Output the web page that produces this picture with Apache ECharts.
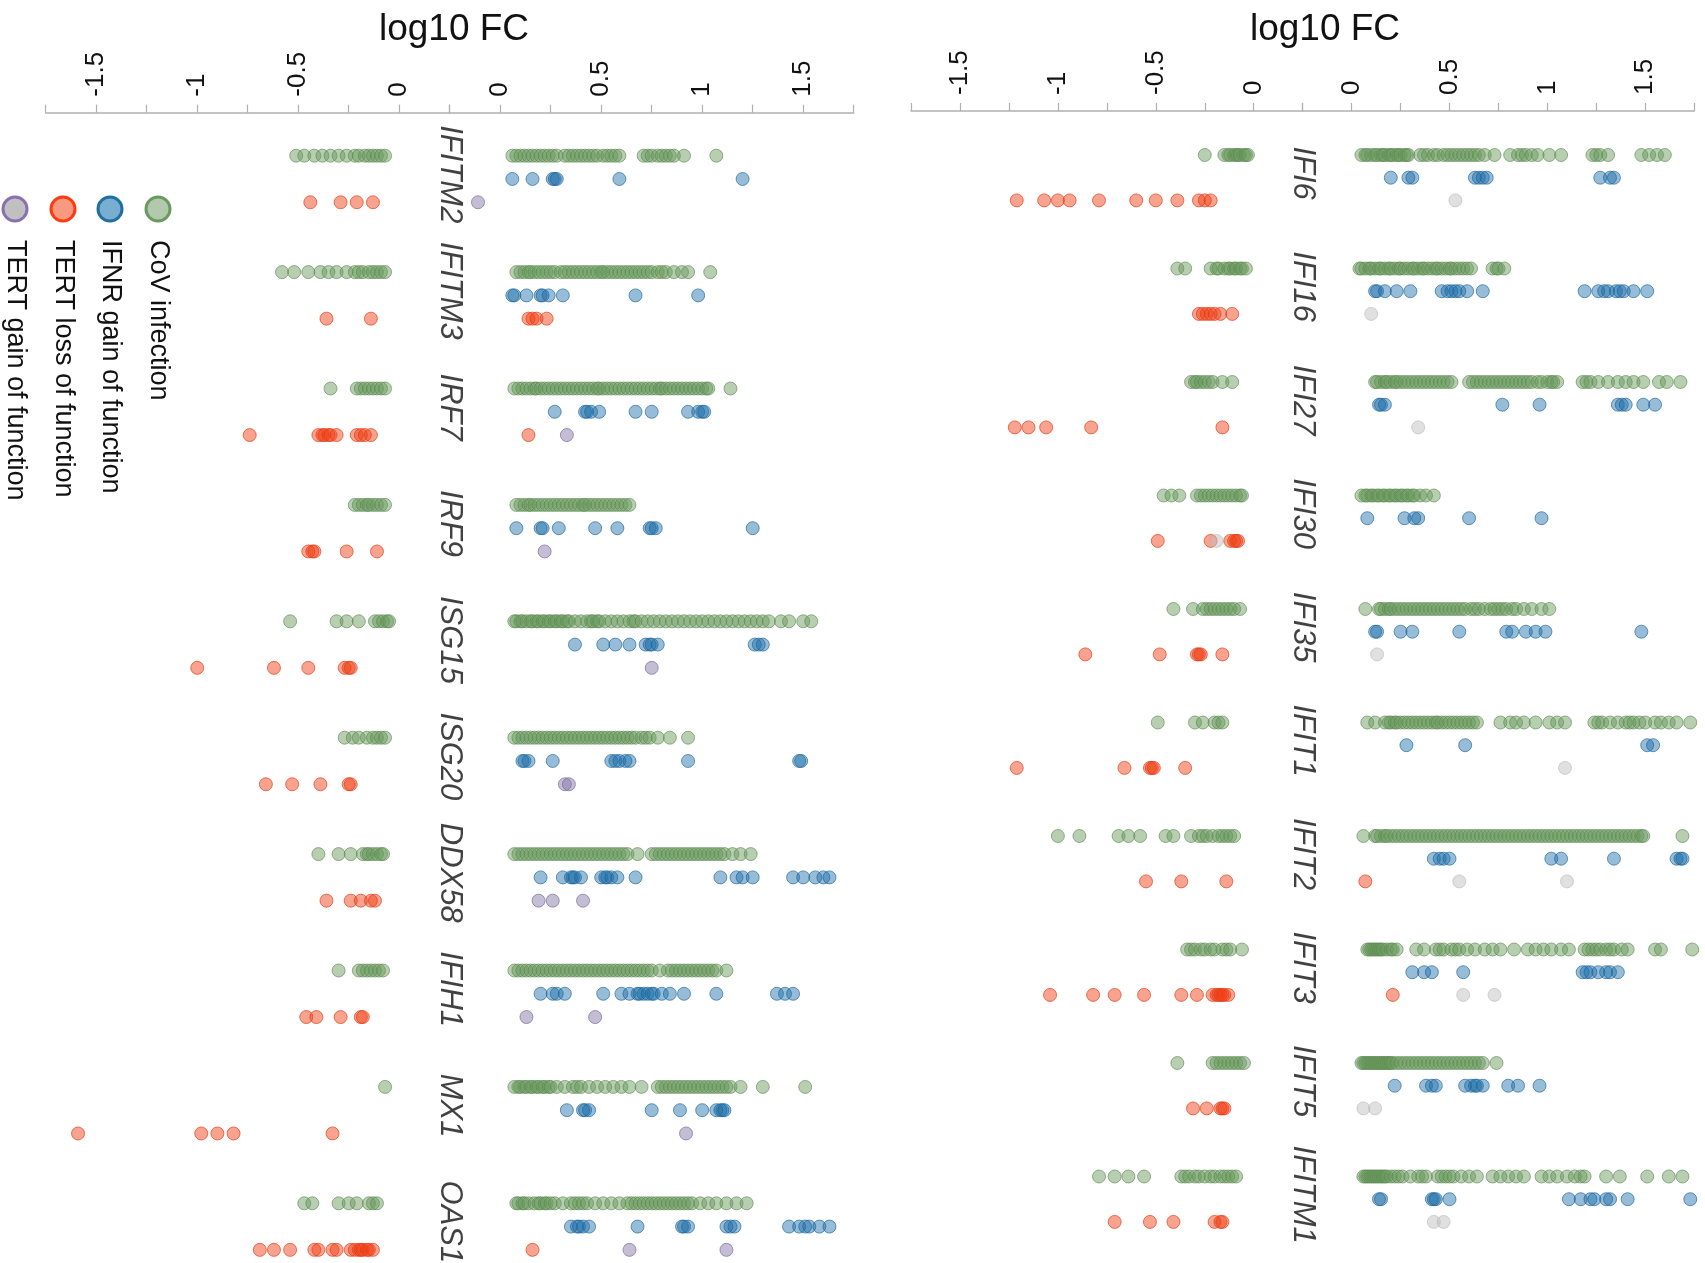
<!DOCTYPE html>
<html>
<head>
<meta charset="utf-8">
<script src="https://cdn.jsdelivr.net/npm/echarts@6/dist/echarts.min.js"></script>
<style>html,body{margin:0;padding:0;background:#fff}#c{width:1705px;height:1263px}</style>
</head>
<body>
<div id="c"></div>
<script>
// ---------------- DATA ----------------
const genesTop = ['IFI6','IFI16','IFI27','IFI30','IFI35','IFIT1','IFIT2','IFIT3','IFIT5','IFITM1'];
const genesBottom = ['IFITM2','IFITM3','IRF7','IRF9','ISG15','ISG20','DDX58','IFIH1','MX1','OAS1'];
const seriesNames = ['CoV infection','IFNR gain of function','TERT loss of function','TERT gain of function'];
const tickLabelsNeg = ['-1.5','-1','-0.5','0'];
const tickLabelsPos = ['0','0.5','1','1.5'];

// CoV infection, top panel (positive side / negative side), one list per gene
const covPosTop = [
  [0.05,0.07,0.08,0.1,0.12,0.13,0.15,0.16,0.17,0.19,0.2,0.21,0.23,0.24,0.25,0.27,0.28,0.29,0.35,0.37,0.39,0.42,0.44,0.47,0.49,0.51,0.53,0.55,0.57,0.59,0.61,0.63,0.65,0.68,0.73,0.81,0.85,0.87,0.89,0.92,0.95,1.01,1.07,1.23,1.25,1.27,1.31,1.48,1.52,1.56,1.6],
  [0.04,0.05,0.07,0.09,0.1,0.12,0.14,0.15,0.17,0.19,0.2,0.22,0.24,0.25,0.27,0.29,0.31,0.32,0.34,0.36,0.37,0.39,0.41,0.43,0.44,0.46,0.48,0.5,0.51,0.53,0.55,0.57,0.59,0.61,0.72,0.74,0.75,0.78],
  [0.12,0.13,0.15,0.17,0.18,0.2,0.22,0.23,0.25,0.27,0.29,0.31,0.33,0.35,0.37,0.39,0.41,0.43,0.45,0.47,0.49,0.51,0.6,0.62,0.64,0.66,0.68,0.7,0.72,0.74,0.76,0.78,0.8,0.82,0.84,0.86,0.88,0.9,0.92,0.95,0.97,1.0,1.02,1.03,1.05,1.18,1.2,1.22,1.26,1.31,1.36,1.4,1.44,1.49,1.57,1.61,1.68],
  [0.05,0.07,0.08,0.1,0.11,0.13,0.14,0.16,0.17,0.19,0.2,0.22,0.23,0.25,0.26,0.28,0.29,0.31,0.32,0.35,0.38,0.42],
  [0.07,0.14,0.15,0.17,0.19,0.2,0.22,0.24,0.26,0.28,0.3,0.32,0.34,0.36,0.38,0.4,0.42,0.44,0.46,0.48,0.5,0.52,0.54,0.56,0.58,0.61,0.63,0.65,0.68,0.71,0.73,0.75,0.77,0.79,0.82,0.84,0.88,0.92,0.97,1.01],
  [0.08,0.12,0.17,0.19,0.2,0.22,0.23,0.25,0.27,0.29,0.31,0.33,0.35,0.37,0.39,0.41,0.43,0.44,0.46,0.48,0.5,0.52,0.54,0.56,0.58,0.6,0.62,0.64,0.76,0.81,0.84,0.88,0.94,1.01,1.05,1.09,1.24,1.26,1.28,1.32,1.36,1.4,1.42,1.44,1.47,1.5,1.55,1.58,1.62,1.66,1.73],
  [0.06,0.12,0.13,0.15,0.17,0.18,0.2,0.22,0.24,0.26,0.28,0.3,0.32,0.34,0.36,0.38,0.4,0.42,0.44,0.46,0.48,0.5,0.52,0.54,0.56,0.58,0.6,0.62,0.64,0.66,0.68,0.7,0.72,0.74,0.76,0.78,0.8,0.82,0.84,0.86,0.88,0.9,0.92,0.94,0.96,0.98,1.0,1.02,1.04,1.06,1.08,1.1,1.12,1.14,1.16,1.18,1.2,1.22,1.24,1.26,1.28,1.3,1.32,1.34,1.36,1.38,1.4,1.42,1.44,1.46,1.48,1.49,1.69],
  [0.08,0.09,0.1,0.11,0.12,0.13,0.14,0.15,0.16,0.18,0.2,0.21,0.23,0.33,0.37,0.43,0.45,0.47,0.51,0.53,0.55,0.59,0.63,0.68,0.72,0.76,0.83,0.9,0.94,0.98,1.02,1.07,1.11,1.19,1.21,1.23,1.25,1.27,1.3,1.32,1.34,1.38,1.41,1.55,1.58,1.74],
  [0.05,0.06,0.07,0.08,0.09,0.1,0.11,0.12,0.13,0.14,0.15,0.16,0.17,0.18,0.19,0.2,0.21,0.23,0.25,0.27,0.29,0.31,0.33,0.35,0.37,0.39,0.41,0.43,0.45,0.47,0.49,0.51,0.53,0.55,0.57,0.59,0.61,0.63,0.65,0.67,0.74],
  [0.06,0.07,0.08,0.09,0.1,0.11,0.12,0.13,0.14,0.15,0.16,0.17,0.18,0.2,0.22,0.24,0.26,0.3,0.34,0.36,0.38,0.44,0.46,0.48,0.5,0.52,0.56,0.6,0.64,0.72,0.76,0.8,0.84,0.88,0.97,1.01,1.05,1.1,1.14,1.17,1.19,1.3,1.37,1.51,1.62,1.69]
];
const covNegTop = [
  [-0.25,-0.15,-0.13,-0.12,-0.1,-0.09,-0.08,-0.07,-0.05,-0.04,-0.03],
  [-0.39,-0.35,-0.22,-0.19,-0.18,-0.15,-0.13,-0.12,-0.1,-0.09,-0.07,-0.06,-0.04],
  [-0.32,-0.3,-0.29,-0.27,-0.25,-0.23,-0.21,-0.16,-0.11],
  [-0.46,-0.42,-0.38,-0.29,-0.27,-0.25,-0.23,-0.21,-0.19,-0.17,-0.15,-0.13,-0.11,-0.09,-0.07,-0.06],
  [-0.41,-0.31,-0.26,-0.24,-0.22,-0.2,-0.18,-0.16,-0.14,-0.12,-0.1,-0.07],
  [-0.49,-0.3,-0.26,-0.2,-0.18,-0.16],
  [-1.0,-0.89,-0.69,-0.64,-0.58,-0.45,-0.41,-0.32,-0.28,-0.26,-0.24,-0.21,-0.18,-0.16,-0.14,-0.12,-0.1],
  [-0.34,-0.32,-0.3,-0.27,-0.25,-0.22,-0.2,-0.16,-0.14,-0.12,-0.06],
  [-0.39,-0.21,-0.19,-0.17,-0.15,-0.13,-0.11,-0.09,-0.07,-0.05],
  [-0.79,-0.71,-0.64,-0.56,-0.37,-0.35,-0.33,-0.3,-0.28,-0.25,-0.22,-0.2,-0.17,-0.15,-0.13,-0.11,-0.09]
];
const ifnrTop = [
  [0.2,0.29,0.31,0.63,0.65,0.67,0.69,1.27,1.32,1.34],
  [0.12,0.13,0.17,0.23,0.3,0.46,0.49,0.51,0.53,0.55,0.59,0.67,1.19,1.26,1.29,1.31,1.35,1.37,1.39,1.44,1.51],
  [0.14,0.15,0.17,0.77,0.96,1.36,1.38,1.4,1.49,1.55],
  [0.08,0.27,0.32,0.34,0.6,0.97],
  [0.12,0.13,0.25,0.31,0.55,0.79,0.82,0.89,0.94,0.99,1.48],
  [0.28,0.58,1.51,1.54],
  [0.42,0.45,0.47,0.5,1.02,1.07,1.34,1.66,1.68,1.69],
  [0.31,0.37,0.41,0.57,1.18,1.2,1.22,1.26,1.3,1.32,1.36],
  [0.22,0.38,0.41,0.43,0.58,0.61,0.63,0.64,0.67,0.8,0.85,0.96],
  [0.14,0.15,0.41,0.42,0.43,0.5,1.11,1.17,1.22,1.24,1.3,1.32,1.41,1.73]
];
const lossNegTop = [
  [-1.21,-1.07,-1.0,-0.94,-0.79,-0.6,-0.5,-0.39,-0.28,-0.25,-0.22],
  [-0.28,-0.26,-0.24,-0.22,-0.2,-0.17,-0.11],
  [-1.22,-1.15,-1.06,-0.83,-0.16],
  [-0.49,-0.22,-0.12,-0.1,-0.09,-0.08],
  [-0.86,-0.48,-0.29,-0.28,-0.27,-0.16],
  [-1.21,-0.66,-0.53,-0.52,-0.51,-0.35],
  [-0.55,-0.37,-0.14],
  [-1.04,-0.82,-0.71,-0.56,-0.37,-0.29,-0.21,-0.19,-0.18,-0.17,-0.16,-0.15,-0.13],
  [-0.31,-0.24,-0.17,-0.16,-0.15],
  [-0.71,-0.53,-0.41,-0.2,-0.17,-0.16]
];
const lossPosTop = [[],[],[],[],[],[],[0.07],[0.21],[],[]];
const gainPosTop = [[0.53],[0.1],[0.34],[],[0.13],[1.09],[0.55,1.1],[0.57,0.73],[0.06,0.12],[0.42,0.47]];
const gainNegTop = [[],[],[],[-0.19],[],[],[],[],[],[]];

// bottom panel
const covPosBottom = [
  [0.06,0.08,0.1,0.12,0.14,0.16,0.18,0.2,0.22,0.24,0.26,0.28,0.32,0.34,0.36,0.38,0.4,0.42,0.44,0.46,0.48,0.51,0.53,0.55,0.57,0.59,0.71,0.73,0.75,0.78,0.8,0.82,0.84,0.86,0.91,1.07],
  [0.08,0.1,0.12,0.14,0.15,0.17,0.19,0.21,0.23,0.25,0.27,0.3,0.32,0.34,0.36,0.38,0.4,0.42,0.44,0.46,0.48,0.5,0.51,0.53,0.55,0.57,0.59,0.61,0.63,0.65,0.67,0.69,0.71,0.73,0.75,0.78,0.8,0.82,0.86,0.9,0.93,1.04],
  [0.07,0.09,0.11,0.13,0.15,0.17,0.18,0.2,0.22,0.24,0.26,0.28,0.3,0.32,0.34,0.36,0.38,0.4,0.42,0.44,0.46,0.48,0.49,0.51,0.53,0.55,0.57,0.59,0.61,0.63,0.65,0.67,0.69,0.71,0.73,0.75,0.77,0.79,0.8,0.82,0.84,0.86,0.88,0.9,0.92,0.94,0.96,0.98,1.0,1.02,1.03,1.14],
  [0.08,0.1,0.12,0.14,0.15,0.17,0.19,0.21,0.23,0.25,0.27,0.29,0.31,0.33,0.35,0.37,0.39,0.41,0.42,0.44,0.46,0.48,0.5,0.52,0.54,0.56,0.58,0.6,0.62,0.64],
  [0.07,0.08,0.1,0.11,0.13,0.15,0.16,0.18,0.19,0.21,0.22,0.24,0.25,0.27,0.28,0.3,0.31,0.33,0.34,0.37,0.4,0.43,0.45,0.46,0.48,0.49,0.52,0.55,0.58,0.61,0.64,0.66,0.67,0.7,0.73,0.76,0.79,0.82,0.85,0.88,0.91,0.94,0.97,1.0,1.03,1.06,1.09,1.12,1.15,1.18,1.21,1.24,1.27,1.3,1.33,1.39,1.43,1.5,1.54],
  [0.07,0.09,0.11,0.13,0.15,0.17,0.19,0.21,0.23,0.25,0.27,0.29,0.31,0.33,0.35,0.37,0.39,0.41,0.43,0.45,0.47,0.49,0.51,0.53,0.55,0.57,0.59,0.61,0.63,0.65,0.67,0.7,0.72,0.74,0.78,0.84,0.93],
  [0.07,0.09,0.11,0.13,0.15,0.17,0.19,0.21,0.23,0.25,0.27,0.29,0.31,0.33,0.35,0.37,0.39,0.41,0.43,0.45,0.47,0.49,0.51,0.53,0.55,0.57,0.59,0.61,0.63,0.68,0.75,0.77,0.79,0.81,0.83,0.85,0.87,0.89,0.91,0.93,0.95,0.97,0.99,1.01,1.03,1.05,1.07,1.09,1.11,1.15,1.19,1.24],
  [0.07,0.09,0.11,0.13,0.15,0.17,0.19,0.21,0.23,0.25,0.27,0.29,0.31,0.33,0.35,0.37,0.39,0.41,0.43,0.45,0.47,0.49,0.51,0.53,0.55,0.57,0.59,0.61,0.63,0.65,0.67,0.69,0.71,0.73,0.75,0.79,0.83,0.85,0.87,0.89,0.91,0.93,0.95,0.97,0.99,1.01,1.03,1.05,1.07,1.12],
  [0.07,0.09,0.1,0.12,0.13,0.15,0.16,0.18,0.19,0.21,0.22,0.24,0.25,0.28,0.32,0.36,0.38,0.4,0.44,0.48,0.52,0.56,0.6,0.64,0.7,0.78,0.8,0.82,0.84,0.86,0.88,0.9,0.92,0.94,0.96,0.98,1.0,1.02,1.04,1.06,1.08,1.1,1.12,1.14,1.19,1.3,1.51],
  [0.08,0.09,0.11,0.12,0.14,0.17,0.19,0.2,0.22,0.23,0.25,0.27,0.31,0.35,0.37,0.39,0.41,0.43,0.47,0.51,0.55,0.59,0.63,0.65,0.67,0.69,0.71,0.73,0.75,0.77,0.79,0.81,0.83,0.85,0.87,0.89,0.91,0.93,0.95,0.99,1.03,1.07,1.12,1.17,1.22]
];
const covNegBottom = [
  [-0.51,-0.47,-0.42,-0.38,-0.34,-0.3,-0.26,-0.22,-0.2,-0.17,-0.15,-0.13,-0.11,-0.09,-0.07],
  [-0.58,-0.52,-0.45,-0.39,-0.35,-0.31,-0.26,-0.22,-0.2,-0.18,-0.15,-0.13,-0.11,-0.09,-0.07],
  [-0.34,-0.21,-0.19,-0.17,-0.15,-0.13,-0.11,-0.09,-0.07],
  [-0.22,-0.2,-0.18,-0.16,-0.15,-0.13,-0.11,-0.09,-0.07],
  [-0.54,-0.31,-0.26,-0.2,-0.12,-0.1,-0.08,-0.06,-0.05],
  [-0.27,-0.23,-0.2,-0.16,-0.13,-0.11,-0.09,-0.07],
  [-0.4,-0.3,-0.24,-0.18,-0.16,-0.15,-0.13,-0.11,-0.09,-0.08],
  [-0.3,-0.2,-0.18,-0.16,-0.14,-0.12,-0.1,-0.08],
  [-0.07],
  [-0.47,-0.43,-0.3,-0.25,-0.21,-0.15,-0.13,-0.11]
];
const ifnrBottom = [
  [0.06,0.16,0.26,0.27,0.28,0.59,1.2],
  [0.06,0.07,0.13,0.2,0.21,0.24,0.31,0.67,0.98],
  [0.27,0.42,0.43,0.45,0.49,0.67,0.75,0.93,0.98,1.0,1.01],
  [0.08,0.2,0.21,0.29,0.47,0.58,0.74,0.75,0.77,1.25],
  [0.37,0.51,0.57,0.64,0.72,0.74,0.75,0.78,1.26,1.28,1.3],
  [0.11,0.12,0.14,0.26,0.55,0.57,0.59,0.62,0.64,0.93,1.48,1.49],
  [0.2,0.31,0.35,0.36,0.37,0.4,0.5,0.52,0.53,0.55,0.58,0.67,1.09,1.17,1.2,1.25,1.45,1.5,1.56,1.6,1.63],
  [0.2,0.26,0.28,0.32,0.51,0.6,0.64,0.68,0.69,0.71,0.73,0.75,0.76,0.8,0.84,0.91,1.07,1.37,1.41,1.45],
  [0.33,0.41,0.42,0.44,0.75,0.89,1.0,1.07,1.09,1.1,1.11],
  [0.35,0.38,0.39,0.41,0.44,0.68,0.9,0.91,0.93,1.12,1.14,1.16,1.43,1.48,1.51,1.53,1.58,1.63]
];
const lossNegBottom = [
  [-0.44,-0.29,-0.21,-0.13],
  [-0.36,-0.14],
  [-0.74,-0.4,-0.38,-0.37,-0.35,-0.34,-0.31,-0.21,-0.19,-0.17,-0.14],
  [-0.45,-0.43,-0.42,-0.26,-0.11],
  [-1.0,-0.62,-0.45,-0.27,-0.25,-0.24],
  [-0.66,-0.53,-0.39,-0.25,-0.24],
  [-0.36,-0.24,-0.19,-0.14,-0.12],
  [-0.46,-0.41,-0.29,-0.19,-0.18],
  [-1.59,-0.98,-0.9,-0.82,-0.33],
  [-0.69,-0.62,-0.54,-0.42,-0.4,-0.33,-0.31,-0.24,-0.22,-0.2,-0.19,-0.18,-0.16,-0.15,-0.13]
];
const lossPosBottom = [[],[0.14,0.16,0.18,0.23],[0.14],[],[],[],[],[],[],[0.16]];
const gainPosBottom = [[-0.11],[],[0.33],[0.22],[0.75],[0.32,0.34],[0.19,0.26,0.41],[0.13,0.47],[0.92],[0.64,1.12]];

// ---------------- CHART ----------------
const FONT = '"Liberation Sans", Arial, sans-serif';
const ROWS_PER_GENE = 5;
function pts(lists, row) {
  const out = [];
  lists.forEach((vals, g) => vals.forEach(v => out.push([v, g * ROWS_PER_GENE + row])));
  return out;
}
const styles = {
  cov:  { color: 'rgba(104,152,93,0.6)', borderColor: 'rgba(92,138,82,0.8)', borderWidth: 1 },
  ifnr: { color: 'rgba(31,111,168,0.58)', borderColor: 'rgba(25,100,155,0.8)', borderWidth: 1 },
  loss: { color: 'rgba(240,62,20,0.6)', borderColor: 'rgba(225,60,20,0.85)', borderWidth: 1 },
  gainTop: { color: 'rgba(190,190,190,0.6)', borderColor: 'rgba(180,180,180,0.7)', borderWidth: 1 },
  gainBottom: { color: 'rgba(130,120,165,0.6)', borderColor: 'rgba(120,105,160,0.85)', borderWidth: 1 }
};
function sc(name, data, gi, style) {
  return { type: 'scatter', name, data, xAxisIndex: gi, yAxisIndex: gi, symbolSize: 13,
    itemStyle: style, silent: true, animation: false, z: 2 };
}
function labelSeries(genes, gi) {
  return { type: 'scatter', name: 'genes', xAxisIndex: gi, yAxisIndex: gi, symbolSize: 0,
    itemStyle: { color: 'rgba(0,0,0,0)' }, silent: true, animation: false, z: 5,
    data: genes.map((g, i) => ({ name: g, value: [-0.25, i * ROWS_PER_GENE + 0.8] })),
    label: { show: true, position: 'inside', formatter: '{b}', rotate: -90,
      fontSize: 31, fontStyle: 'italic', fontFamily: FONT, color: '#111' },
    labelLayout: { hideOverlap: false } };
}
function fmt(side) {
  return function (v) {
    const s = Math.round(v * 100) / 100;
    if (Math.abs(s * 2 - Math.round(s * 2)) > 1e-6) return '';
    const str = String(s === 0 ? 0 : s);
    const list = side === 'neg' ? tickLabelsNeg : tickLabelsPos;
    return list.indexOf(str) >= 0 ? str : '';
  };
}
function xAx(gi, side) {
  return { type: 'value', gridIndex: gi, position: 'top',
    min: side === 'neg' ? -1.75 : -0.25, max: side === 'neg' ? 0.25 : 1.75, interval: 0.25,
    axisLine: { show: true, onZero: false, lineStyle: { color: '#b0b0b0', width: 1.5 } },
    axisTick: { show: true, length: 8, lineStyle: { color: '#b0b0b0', width: 1.2 } },
    splitLine: { show: false },
    axisLabel: { show: true, rotate: -90, margin: 16, fontSize: 26, color: '#111', fontFamily: FONT,
      formatter: fmt(side), showMinLabel: true, showMaxLabel: true } };
}
function yAx(gi, min, max) {
  return { type: 'value', gridIndex: gi, inverse: true, min, max, show: false };
}
// grid geometry (px)
const topPanel = { left: 911, mid: 1302.7, right: 1694.2, top: 111, y0: 155, rowPx: 22.7, bottom: 1255 };
const botPanel = { left: 45.7, mid: 449.7, right: 853.7, top: 112.7, y0: 155.7, rowPx: 23.28, bottom: 1262 };
function grids(p) {
  return [
    { left: p.left, top: p.top, width: p.mid - p.left, height: p.bottom - p.top },
    { left: p.mid, top: p.top, width: p.right - p.mid, height: p.bottom - p.top }
  ];
}
function yr(p) { return [-(p.y0 - p.top) / p.rowPx, (p.bottom - p.y0) / p.rowPx]; }
const [tMin, tMax] = yr(topPanel);
const [bMin, bMax] = yr(botPanel);

const option = {
  backgroundColor: '#fff',
  animation: false,
  title: [
    { text: 'log10 FC', left: 1320, top: 6, textAlign: 'center',
      textStyle: { fontSize: 37, fontWeight: 'normal', color: '#111', fontFamily: FONT } },
    { text: 'log10 FC', left: 449, top: 6, textAlign: 'center',
      textStyle: { fontSize: 37, fontWeight: 'normal', color: '#111', fontFamily: FONT } }
  ],
  grid: [...grids(topPanel), ...grids(botPanel)],
  xAxis: [xAx(0, 'neg'), xAx(1, 'pos'), xAx(2, 'neg'), xAx(3, 'pos')],
  yAxis: [yAx(0, tMin, tMax), yAx(1, tMin, tMax), yAx(2, bMin, bMax), yAx(3, bMin, bMax)],
  series: [
    sc(seriesNames[0], pts(covNegTop, 0), 0, styles.cov),
    sc(seriesNames[0], pts(covPosTop, 0), 1, styles.cov),
    sc(seriesNames[1], pts(ifnrTop, 1), 1, styles.ifnr),
    sc(seriesNames[2], pts(lossNegTop, 2), 0, styles.loss),
    sc(seriesNames[2], pts(lossPosTop, 2), 1, styles.loss),
    sc(seriesNames[3], pts(gainNegTop, 2), 0, styles.gainTop),
    sc(seriesNames[3], pts(gainPosTop, 2), 1, styles.gainTop),
    labelSeries(genesTop, 1),
    sc(seriesNames[0], pts(covNegBottom, 0), 2, styles.cov),
    sc(seriesNames[0], pts(covPosBottom, 0), 3, styles.cov),
    sc(seriesNames[1], pts(ifnrBottom, 1), 3, styles.ifnr),
    sc(seriesNames[2], pts(lossNegBottom, 2), 2, styles.loss),
    sc(seriesNames[2], pts(lossPosBottom, 2), 3, styles.loss),
    sc(seriesNames[3], pts(gainPosBottom, 2), 3, styles.gainBottom),
    labelSeries(genesBottom, 3)
  ],
  graphic: (function () {
    const items = [
      { x: 158, fill: '#b3c9ae', stroke: '#6b9a60' },
      { x: 110, fill: '#7aaed0', stroke: '#1f6fa0' },
      { x: 63, fill: '#f99a80', stroke: '#ff3a10' },
      { x: 15, fill: '#c0c0c0', stroke: '#8a70b0' }
    ];
    const els = [];
    items.forEach((it, i) => {
      els.push({ type: 'circle', shape: { cx: it.x, cy: 209, r: 12 },
        style: { fill: it.fill, stroke: it.stroke, lineWidth: 3 }, silent: true });
      els.push({ type: 'text', x: it.x, y: 240, rotation: -Math.PI / 2, silent: true,
        style: { text: seriesNames[i], font: '27px ' + FONT, fill: '#111', align: 'left', verticalAlign: 'middle' } });
    });
    return els;
  })()
};
const chart = echarts.init(document.getElementById('c'), null, { renderer: 'canvas' });
chart.setOption(option);
</script>
</body>
</html>
